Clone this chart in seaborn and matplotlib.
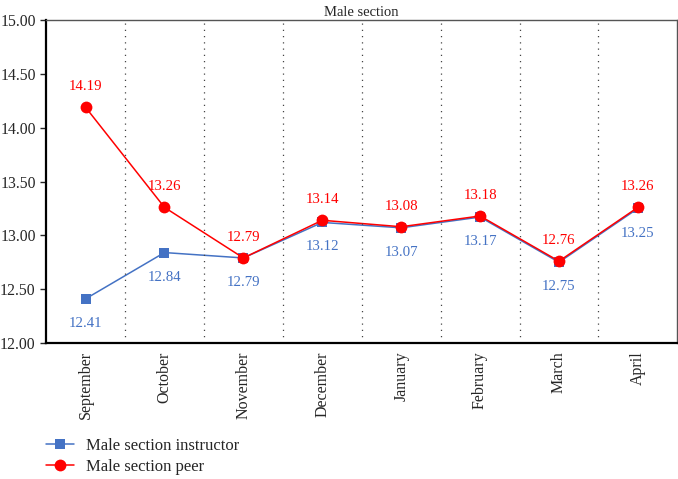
import matplotlib
matplotlib.use("Agg")
import matplotlib.pyplot as plt
import seaborn as sns
import pandas as pd

months = ['September', 'October', 'November', 'December',
          'January', 'February', 'March', 'April']
instructor = [12.41, 12.84, 12.79, 13.12, 13.07, 13.17, 12.75, 13.25]
peer = [14.19, 13.26, 12.79, 13.14, 13.08, 13.18, 12.76, 13.26]

df_i = pd.DataFrame({'Month': months, 'Score': instructor})
df_p = pd.DataFrame({'Month': months, 'Score': peer})

blue = '#4472C4'
red = '#FF0000'

sns.set_style('white')
plt.rcParams['font.family'] = ['Liberation Serif', 'DejaVu Serif']

fig = plt.figure(figsize=(6.78, 4.79), dpi=100)
ax = fig.add_axes([0.068, 0.284, 0.931, 0.674])

sns.lineplot(data=df_i, x='Month', y='Score', color=blue, marker='s',
             markersize=7, markeredgewidth=0, linewidth=1.1,
             label='Male section instructor', ax=ax)
sns.lineplot(data=df_p, x='Month', y='Score', color=red, marker='o',
             markersize=8.5, markeredgewidth=0, linewidth=1.1,
             label='Male section peer', ax=ax)

for i, (a, b) in enumerate(zip(instructor, peer)):
    ax.annotate(f'{a:.2f}', (i, a), xytext=(0, -13), textcoords='offset points',
                ha='center', va='top', color=blue, fontsize=10.7)
    ax.annotate(f'{b:.2f}', (i, b), xytext=(0, 10), textcoords='offset points',
                ha='center', va='bottom', color=red, fontsize=10.7)

for x in range(len(months) - 1):
    ax.axvline(x + 0.5, color='#444444', linestyle=(0, (1, 4)), linewidth=0.9)

ax.set_xlim(-0.5, len(months) - 0.5)
ax.set_ylim(12.0, 15.0)
ax.set_yticks([12.0, 12.5, 13.0, 13.5, 14.0, 14.5, 15.0])
ax.set_yticklabels([f'{v:.2f}' for v in ax.get_yticks()])
ax.set_xlabel('')
ax.set_ylabel('')
ax.set_title('Male section', fontsize=10.5, pad=3)
ax.tick_params(axis='x', labelsize=11.5, length=0, pad=6)
ax.tick_params(axis='y', labelsize=11.3, length=4, width=1, direction='out', left=True)
plt.setp(ax.get_xticklabels(), rotation=90, va='top', ha='center')

for side in ['left', 'bottom']:
    ax.spines[side].set_color('black')
    ax.spines[side].set_linewidth(1.6)
for side in ['top', 'right']:
    ax.spines[side].set_color('#555555')
    ax.spines[side].set_linewidth(1.0)

handles, labels = ax.get_legend_handles_labels()
ax.legend_.remove()
fig.legend(handles, labels, loc='lower left', bbox_to_anchor=(0.045, -0.022),
           frameon=False, fontsize=12, handlelength=1.7, handletextpad=0.7,
           labelspacing=0.3)

plt.savefig('out.png', dpi=100)
plt.close()
